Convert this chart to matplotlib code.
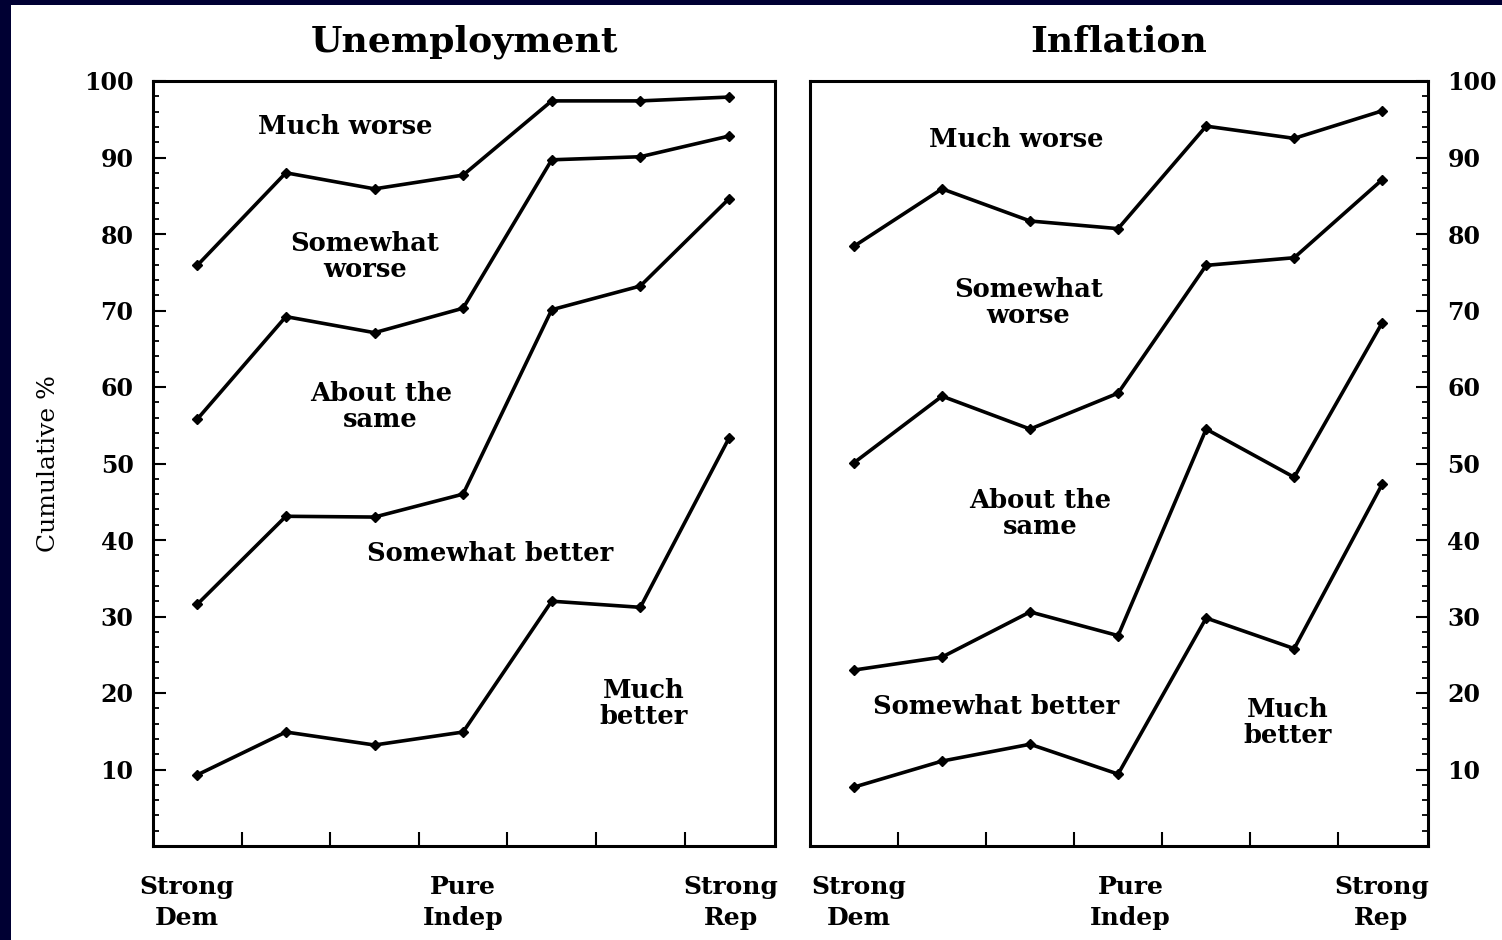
import matplotlib.pyplot as plt
import numpy as np
from matplotlib.patches import Rectangle

# Party identification scale (7 points)
positions = [1, 2, 3, 4, 5, 6, 7]
xlabels = ["Strong\nDem", "Pure\nIndep", "Strong\nRep"]
unemp_xlabel_pos = [0.88, 4.0, 7.02]
infl_xlabel_pos = [1.05, 4.14, 6.99]

# Cumulative % boundaries, Unemployment panel
unemp_much_worse = [75.9, 88.0, 85.9, 87.7, 97.4, 97.4, 97.9]
unemp_somewhat_worse = [55.8, 69.2, 67.1, 70.3, 89.7, 90.1, 92.8]
unemp_same = [31.6, 43.1, 43.0, 46.0, 70.1, 73.2, 84.6]
unemp_somewhat_better = [9.3, 14.9, 13.2, 14.9, 32.0, 31.2, 53.3]

# Cumulative % boundaries, Inflation panel
infl_much_worse = [78.4, 85.9, 81.7, 80.7, 94.1, 92.5, 96.1]
infl_somewhat_worse = [50.1, 58.8, 54.5, 59.2, 75.9, 76.9, 87.1]
infl_same = [23.0, 24.7, 30.6, 27.5, 54.5, 48.2, 68.4]
infl_somewhat_better = [7.7, 11.1, 13.3, 9.4, 29.8, 25.8, 47.3]

# Region labels: (text, x, y)
unemp_labels = [
    ("Much worse", 2.67, 94.1),
    ("Somewhat\nworse", 2.89, 77.1),
    ("About the\nsame", 3.07, 57.5),
    ("Somewhat better", 4.30, 38.2),
    ("Much\nbetter", 6.04, 18.6),
]
infl_labels = [
    ("Much worse", 2.84, 92.4),
    ("Somewhat\nworse", 2.98, 71.0),
    ("About the\nsame", 3.11, 43.4),
    ("Somewhat better", 2.61, 18.2),
    ("Much\nbetter", 5.93, 16.1),
]

FONT = "DejaVu Serif"

fig = plt.figure(figsize=(15.02, 9.40), dpi=100, facecolor="#000033")
fig.add_artist(Rectangle((11 / 1502, 0), 1, 935 / 940, transform=fig.transFigure,
                         facecolor="white", edgecolor="none", zorder=-1))

ax1 = fig.add_axes([153 / 1502, 94 / 940, 622 / 1502, 765 / 940])
ax2 = fig.add_axes([810 / 1502, 94 / 940, 618 / 1502, 765 / 940])


def draw_panel(ax, series, labels, title, side, xlabel_pos):
    for s in series:
        ax.plot(positions, s, color="black", lw=2.6, marker="D", markersize=5)
    for txt, x, y in labels:
        ax.text(x, y, txt, ha="center", va="center", fontsize=18.5, family=FONT,
                fontweight="bold", linespacing=1.05)
    ax.set_xlim(0.5, 7.52)
    ax.set_ylim(0, 100)
    ax.set_yticks(np.arange(10, 101, 10))
    ax.set_yticks(np.arange(2, 100, 2), minor=True)
    ax.set_xticks([1.5, 2.5, 3.5, 4.5, 5.5, 6.5])
    ax.set_xticklabels([])
    for sp in ax.spines.values():
        sp.set_linewidth(2.2)
    if side == "left":
        ax.tick_params(axis="y", which="both", direction="in", left=True, right=False,
                       labelleft=True, labelright=False)
    else:
        ax.tick_params(axis="y", which="both", direction="in", left=False, right=True,
                       labelleft=False, labelright=True)
    ax.tick_params(axis="y", which="major", length=9, width=1.5, pad=14, labelsize=17)
    ax.tick_params(axis="y", which="minor", length=4.5, width=1.3)
    ax.tick_params(axis="x", which="major", direction="in", length=10, width=1.5)
    for lab in ax.get_yticklabels():
        lab.set_family(FONT)
        lab.set_fontweight("bold")
    # party-ID labels beneath the axis
    for txt, x in zip(xlabels, xlabel_pos):
        ax.text(x, -3.8, txt, ha="center", va="top", fontsize=18, family=FONT,
                fontweight="bold", linespacing=1.35)
    ax.text(0.5, 1.051, title, transform=ax.transAxes, ha="center", va="center",
            fontsize=26, family=FONT, fontweight="bold")


draw_panel(ax1, [unemp_much_worse, unemp_somewhat_worse, unemp_same, unemp_somewhat_better],
           unemp_labels, "Unemployment", "left", unemp_xlabel_pos)
draw_panel(ax2, [infl_much_worse, infl_somewhat_worse, infl_same, infl_somewhat_better],
           infl_labels, "Inflation", "right", infl_xlabel_pos)

ax1.set_ylabel("Cumulative %", fontsize=18, family=FONT, labelpad=17)

fig.savefig("out.png", dpi=100, facecolor=fig.get_facecolor())
